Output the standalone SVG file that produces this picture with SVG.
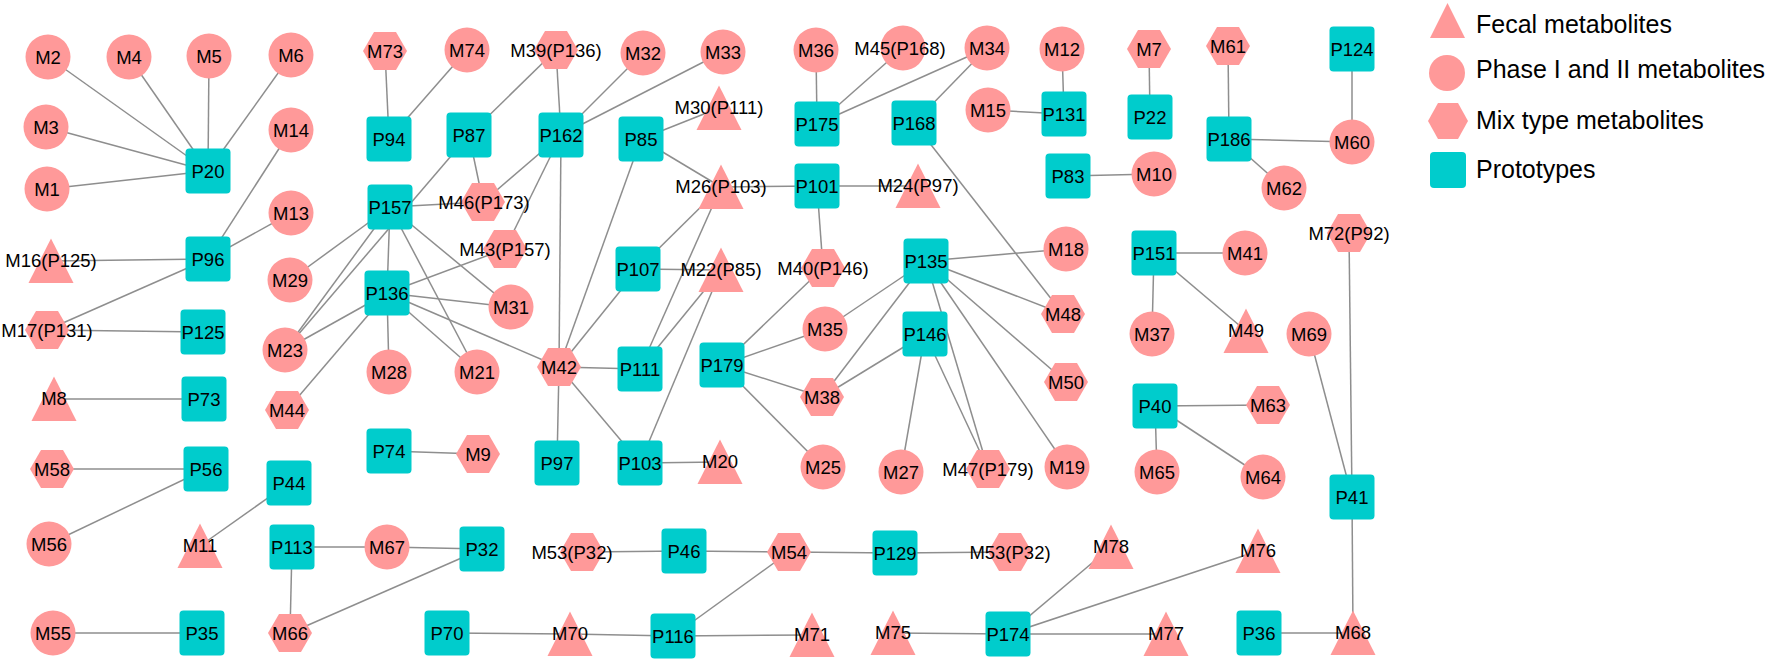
<svg xmlns="http://www.w3.org/2000/svg" xmlns:xlink="http://www.w3.org/1999/xlink" width="1772" height="662" viewBox="0 0 1772 662">
<style>
.bg{fill:#ffffff}
.e line{stroke:#8e8e8e;stroke-width:1.5}
.m{fill:#ff9999}
.p{fill:#00cccc}
text{font-family:"Liberation Sans",Arial,sans-serif;fill:#000;text-anchor:middle;font-size:18.5px}
.lg text{text-anchor:start;font-size:25px}
</style>
<defs>
<circle id="ci" r="22.5"/>
<rect id="sq" x="-22.5" y="-22.5" width="45" height="45" rx="4"/>
<polygon id="hx" points="-22,0 -11,-19 11,-19 22,0 11,19 -11,19"/>
<polygon id="tr" points="0,-22.5 22.5,22 -22.5,22"/>
</defs>
<rect class="bg" width="1772" height="662"/>
<g id="connectors" class="e">
<line x1="208" y1="171" x2="48" y2="57"/>
<line x1="208" y1="171" x2="129" y2="57"/>
<line x1="208" y1="171" x2="209" y2="56"/>
<line x1="208" y1="171" x2="291" y2="55"/>
<line x1="208" y1="171" x2="46" y2="127"/>
<line x1="208" y1="171" x2="47" y2="189"/>
<line x1="208" y1="259" x2="291" y2="130"/>
<line x1="208" y1="259" x2="291" y2="213"/>
<line x1="208" y1="259" x2="51" y2="261"/>
<line x1="208" y1="259" x2="47" y2="330"/>
<line x1="47" y1="330" x2="203" y2="332"/>
<line x1="54" y1="399" x2="204" y2="399"/>
<line x1="52" y1="469" x2="206" y2="469"/>
<line x1="49" y1="544" x2="206" y2="469"/>
<line x1="200" y1="546" x2="289" y2="483"/>
<line x1="292" y1="547" x2="387" y2="547"/>
<line x1="387" y1="547" x2="482" y2="549"/>
<line x1="292" y1="547" x2="290" y2="633"/>
<line x1="290" y1="633" x2="482" y2="549"/>
<line x1="53" y1="633" x2="202" y2="633"/>
<line x1="385" y1="51" x2="389" y2="139"/>
<line x1="467" y1="50" x2="389" y2="139"/>
<line x1="556" y1="50" x2="469" y2="135"/>
<line x1="556" y1="50" x2="561" y2="135"/>
<line x1="469" y1="135" x2="483" y2="202"/>
<line x1="285" y1="350" x2="469" y2="135"/>
<line x1="390" y1="207" x2="483" y2="202"/>
<line x1="561" y1="135" x2="483" y2="202"/>
<line x1="561" y1="135" x2="505" y2="249"/>
<line x1="561" y1="135" x2="643" y2="53"/>
<line x1="561" y1="135" x2="723" y2="52"/>
<line x1="561" y1="135" x2="559" y2="367"/>
<line x1="390" y1="207" x2="290" y2="280"/>
<line x1="390" y1="207" x2="285" y2="350"/>
<line x1="390" y1="207" x2="387" y2="293"/>
<line x1="390" y1="207" x2="511" y2="307"/>
<line x1="390" y1="207" x2="477" y2="372"/>
<line x1="387" y1="293" x2="505" y2="249"/>
<line x1="387" y1="293" x2="511" y2="307"/>
<line x1="387" y1="293" x2="559" y2="367"/>
<line x1="387" y1="293" x2="477" y2="372"/>
<line x1="387" y1="293" x2="389" y2="372"/>
<line x1="387" y1="293" x2="287" y2="410"/>
<line x1="387" y1="293" x2="285" y2="350"/>
<line x1="641" y1="139" x2="559" y2="367"/>
<line x1="638" y1="269" x2="559" y2="367"/>
<line x1="559" y1="367" x2="640" y2="369"/>
<line x1="559" y1="367" x2="557" y2="463"/>
<line x1="559" y1="367" x2="640" y2="463"/>
<line x1="641" y1="139" x2="719" y2="108"/>
<line x1="641" y1="139" x2="721" y2="187"/>
<line x1="721" y1="187" x2="817" y2="186"/>
<line x1="721" y1="187" x2="638" y2="269"/>
<line x1="721" y1="187" x2="640" y2="369"/>
<line x1="721" y1="270" x2="638" y2="269"/>
<line x1="721" y1="270" x2="640" y2="369"/>
<line x1="721" y1="270" x2="640" y2="463"/>
<line x1="817" y1="186" x2="918" y2="186"/>
<line x1="817" y1="186" x2="823" y2="268"/>
<line x1="823" y1="268" x2="722" y2="365"/>
<line x1="722" y1="365" x2="825" y2="329"/>
<line x1="722" y1="365" x2="822" y2="397"/>
<line x1="722" y1="365" x2="823" y2="467"/>
<line x1="926" y1="261" x2="825" y2="329"/>
<line x1="926" y1="261" x2="822" y2="397"/>
<line x1="925" y1="334" x2="822" y2="397"/>
<line x1="926" y1="261" x2="1066" y2="249"/>
<line x1="926" y1="261" x2="1063" y2="314"/>
<line x1="926" y1="261" x2="1066" y2="382"/>
<line x1="926" y1="261" x2="1067" y2="467"/>
<line x1="926" y1="261" x2="988" y2="469"/>
<line x1="925" y1="334" x2="988" y2="469"/>
<line x1="925" y1="334" x2="901" y2="472"/>
<line x1="914" y1="123" x2="1063" y2="314"/>
<line x1="817" y1="124" x2="816" y2="50"/>
<line x1="817" y1="124" x2="903" y2="48"/>
<line x1="817" y1="124" x2="987" y2="48"/>
<line x1="987" y1="48" x2="914" y2="123"/>
<line x1="1062" y1="49" x2="1064" y2="114"/>
<line x1="988" y1="110" x2="1064" y2="114"/>
<line x1="1149" y1="49" x2="1150" y2="117"/>
<line x1="1228" y1="46" x2="1229" y2="139"/>
<line x1="1229" y1="139" x2="1352" y2="142"/>
<line x1="1229" y1="139" x2="1284" y2="188"/>
<line x1="1352" y1="49" x2="1352" y2="142"/>
<line x1="1068" y1="176" x2="1154" y2="174"/>
<line x1="1154" y1="253" x2="1245" y2="253"/>
<line x1="1154" y1="253" x2="1152" y2="334"/>
<line x1="1154" y1="253" x2="1246" y2="331"/>
<line x1="1155" y1="406" x2="1268" y2="405"/>
<line x1="1155" y1="406" x2="1157" y2="472"/>
<line x1="1155" y1="406" x2="1263" y2="477"/>
<line x1="1349" y1="233" x2="1352" y2="497"/>
<line x1="1309" y1="334" x2="1352" y2="497"/>
<line x1="1352" y1="497" x2="1353" y2="633"/>
<line x1="1259" y1="633" x2="1353" y2="633"/>
<line x1="389" y1="451" x2="478" y2="454"/>
<line x1="640" y1="463" x2="720" y2="462"/>
<line x1="684" y1="551" x2="582" y2="552"/>
<line x1="684" y1="551" x2="789" y2="552"/>
<line x1="789" y1="552" x2="895" y2="553"/>
<line x1="895" y1="553" x2="1010" y2="552"/>
<line x1="789" y1="552" x2="673" y2="636"/>
<line x1="447" y1="633" x2="570" y2="634"/>
<line x1="570" y1="634" x2="673" y2="636"/>
<line x1="673" y1="636" x2="812" y2="635"/>
<line x1="893" y1="633" x2="1008" y2="634"/>
<line x1="1008" y1="634" x2="1166" y2="634"/>
<line x1="1008" y1="634" x2="1111" y2="547"/>
<line x1="1008" y1="634" x2="1258" y2="551"/>
</g>
<g id="M2"><use href="#ci" class="m" x="48" y="57"/><text x="48" y="63.5">M2</text></g>
<g id="M4"><use href="#ci" class="m" x="129" y="57"/><text x="129" y="63.5">M4</text></g>
<g id="M5"><use href="#ci" class="m" x="209" y="56"/><text x="209" y="62.5">M5</text></g>
<g id="M6"><use href="#ci" class="m" x="291" y="55"/><text x="291" y="61.5">M6</text></g>
<g id="M3"><use href="#ci" class="m" x="46" y="127"/><text x="46" y="133.5">M3</text></g>
<g id="M1"><use href="#ci" class="m" x="47" y="189"/><text x="47" y="195.5">M1</text></g>
<g id="P20"><use href="#sq" class="p" x="208" y="171"/><text x="208" y="177.5">P20</text></g>
<g id="M14"><use href="#ci" class="m" x="291" y="130"/><text x="291" y="136.5">M14</text></g>
<g id="M13"><use href="#ci" class="m" x="291" y="213"/><text x="291" y="219.5">M13</text></g>
<g id="P96"><use href="#sq" class="p" x="208" y="259"/><text x="208" y="265.5">P96</text></g>
<g id="M16"><use href="#tr" class="m" x="51" y="261"/><text x="51" y="267">M16(P125)</text></g>
<g id="M17"><use href="#hx" class="m" x="47" y="330"/><text x="47" y="336.5">M17(P131)</text></g>
<g id="P125"><use href="#sq" class="p" x="203" y="332"/><text x="203" y="338.5">P125</text></g>
<g id="M29"><use href="#ci" class="m" x="290" y="280"/><text x="290" y="286.5">M29</text></g>
<g id="M73"><use href="#hx" class="m" x="385" y="51"/><text x="385" y="57.5">M73</text></g>
<g id="P94"><use href="#sq" class="p" x="389" y="139"/><text x="389" y="145.5">P94</text></g>
<g id="P157"><use href="#sq" class="p" x="390" y="207"/><text x="390" y="213.5">P157</text></g>
<g id="P136"><use href="#sq" class="p" x="387" y="293"/><text x="387" y="299.5">P136</text></g>
<g id="M23"><use href="#ci" class="m" x="285" y="350"/><text x="285" y="356.5">M23</text></g>
<g id="M28"><use href="#ci" class="m" x="389" y="372"/><text x="389" y="378.5">M28</text></g>
<g id="M21"><use href="#ci" class="m" x="477" y="372"/><text x="477" y="378.5">M21</text></g>
<g id="M44"><use href="#hx" class="m" x="287" y="410"/><text x="287" y="416.5">M44</text></g>
<g id="M74"><use href="#ci" class="m" x="467" y="50"/><text x="467" y="56.5">M74</text></g>
<g id="M39"><use href="#hx" class="m" x="556" y="50"/><text x="556" y="56.5">M39(P136)</text></g>
<g id="M32"><use href="#ci" class="m" x="643" y="53"/><text x="643" y="59.5">M32</text></g>
<g id="M33"><use href="#ci" class="m" x="723" y="52"/><text x="723" y="58.5">M33</text></g>
<g id="P87"><use href="#sq" class="p" x="469" y="135"/><text x="469" y="141.5">P87</text></g>
<g id="P162"><use href="#sq" class="p" x="561" y="135"/><text x="561" y="141.5">P162</text></g>
<g id="P85"><use href="#sq" class="p" x="641" y="139"/><text x="641" y="145.5">P85</text></g>
<g id="M30"><use href="#tr" class="m" x="719" y="108"/><text x="719" y="114">M30(P111)</text></g>
<g id="M46"><use href="#hx" class="m" x="483" y="202"/><text x="484" y="208.5">M46(P173)</text></g>
<g id="M43"><use href="#hx" class="m" x="505" y="249"/><text x="505" y="255.5">M43(P157)</text></g>
<g id="M31"><use href="#ci" class="m" x="511" y="307"/><text x="511" y="313.5">M31</text></g>
<g id="M42"><use href="#hx" class="m" x="559" y="367"/><text x="559" y="373.5">M42</text></g>
<g id="M26"><use href="#tr" class="m" x="721" y="187"/><text x="721" y="193">M26(P103)</text></g>
<g id="P107"><use href="#sq" class="p" x="638" y="269"/><text x="638" y="275.5">P107</text></g>
<g id="M22"><use href="#tr" class="m" x="721" y="270"/><text x="721" y="276">M22(P85)</text></g>
<g id="P111"><use href="#sq" class="p" x="640" y="369"/><text x="640" y="375.5">P111</text></g>
<g id="P103"><use href="#sq" class="p" x="640" y="463"/><text x="640" y="469.5">P103</text></g>
<g id="P97"><use href="#sq" class="p" x="557" y="463"/><text x="557" y="469.5">P97</text></g>
<g id="M20"><use href="#tr" class="m" x="720" y="462"/><text x="720" y="468">M20</text></g>
<g id="M36"><use href="#ci" class="m" x="816" y="50"/><text x="816" y="56.5">M36</text></g>
<g id="M45"><use href="#ci" class="m" x="903" y="48"/><text x="900" y="54.5">M45(P168)</text></g>
<g id="P175"><use href="#sq" class="p" x="817" y="124"/><text x="817" y="130.5">P175</text></g>
<g id="P101"><use href="#sq" class="p" x="817" y="186"/><text x="817" y="192.5">P101</text></g>
<g id="M24"><use href="#tr" class="m" x="918" y="186"/><text x="918" y="192">M24(P97)</text></g>
<g id="M40"><use href="#hx" class="m" x="823" y="268"/><text x="823" y="274.5">M40(P146)</text></g>
<g id="P179"><use href="#sq" class="p" x="722" y="365"/><text x="722" y="371.5">P179</text></g>
<g id="M35"><use href="#ci" class="m" x="825" y="329"/><text x="825" y="335.5">M35</text></g>
<g id="M38"><use href="#hx" class="m" x="822" y="397"/><text x="822" y="403.5">M38</text></g>
<g id="M25"><use href="#ci" class="m" x="823" y="467"/><text x="823" y="473.5">M25</text></g>
<g id="M34"><use href="#ci" class="m" x="987" y="48"/><text x="987" y="54.5">M34</text></g>
<g id="P168"><use href="#sq" class="p" x="914" y="123"/><text x="914" y="129.5">P168</text></g>
<g id="M12"><use href="#ci" class="m" x="1062" y="49"/><text x="1062" y="55.5">M12</text></g>
<g id="M15"><use href="#ci" class="m" x="988" y="110"/><text x="988" y="116.5">M15</text></g>
<g id="P131"><use href="#sq" class="p" x="1064" y="114"/><text x="1064" y="120.5">P131</text></g>
<g id="M7"><use href="#hx" class="m" x="1149" y="49"/><text x="1149" y="55.5">M7</text></g>
<g id="P22"><use href="#sq" class="p" x="1150" y="117"/><text x="1150" y="123.5">P22</text></g>
<g id="M61"><use href="#hx" class="m" x="1228" y="46"/><text x="1228" y="52.5">M61</text></g>
<g id="P186"><use href="#sq" class="p" x="1229" y="139"/><text x="1229" y="145.5">P186</text></g>
<g id="P83"><use href="#sq" class="p" x="1068" y="176"/><text x="1068" y="182.5">P83</text></g>
<g id="M10"><use href="#ci" class="m" x="1154" y="174"/><text x="1154" y="180.5">M10</text></g>
<g id="M62"><use href="#ci" class="m" x="1284" y="188"/><text x="1284" y="194.5">M62</text></g>
<g id="P124"><use href="#sq" class="p" x="1352" y="49"/><text x="1352" y="55.5">P124</text></g>
<g id="M60"><use href="#ci" class="m" x="1352" y="142"/><text x="1352" y="148.5">M60</text></g>
<g id="M72"><use href="#hx" class="m" x="1349" y="233"/><text x="1349" y="239.5">M72(P92)</text></g>
<g id="P135"><use href="#sq" class="p" x="926" y="261"/><text x="926" y="267.5">P135</text></g>
<g id="M18"><use href="#ci" class="m" x="1066" y="249"/><text x="1066" y="255.5">M18</text></g>
<g id="P146"><use href="#sq" class="p" x="925" y="334"/><text x="925" y="340.5">P146</text></g>
<g id="M48"><use href="#hx" class="m" x="1063" y="314"/><text x="1063" y="320.5">M48</text></g>
<g id="M50"><use href="#hx" class="m" x="1066" y="382"/><text x="1066" y="388.5">M50</text></g>
<g id="M27"><use href="#ci" class="m" x="901" y="472"/><text x="901" y="478.5">M27</text></g>
<g id="M47"><use href="#hx" class="m" x="988" y="469"/><text x="988" y="475.5">M47(P179)</text></g>
<g id="M19"><use href="#ci" class="m" x="1067" y="467"/><text x="1067" y="473.5">M19</text></g>
<g id="P151"><use href="#sq" class="p" x="1154" y="253"/><text x="1154" y="259.5">P151</text></g>
<g id="M41"><use href="#ci" class="m" x="1245" y="253"/><text x="1245" y="259.5">M41</text></g>
<g id="M37"><use href="#ci" class="m" x="1152" y="334"/><text x="1152" y="340.5">M37</text></g>
<g id="M49"><use href="#tr" class="m" x="1246" y="331"/><text x="1246" y="337">M49</text></g>
<g id="M69"><use href="#ci" class="m" x="1309" y="334"/><text x="1309" y="340.5">M69</text></g>
<g id="P40"><use href="#sq" class="p" x="1155" y="406"/><text x="1155" y="412.5">P40</text></g>
<g id="M63"><use href="#hx" class="m" x="1268" y="405"/><text x="1268" y="411.5">M63</text></g>
<g id="M65"><use href="#ci" class="m" x="1157" y="472"/><text x="1157" y="478.5">M65</text></g>
<g id="M64"><use href="#ci" class="m" x="1263" y="477"/><text x="1263" y="483.5">M64</text></g>
<g id="P41"><use href="#sq" class="p" x="1352" y="497"/><text x="1352" y="503.5">P41</text></g>
<g id="M8"><use href="#tr" class="m" x="54" y="399"/><text x="54" y="405">M8</text></g>
<g id="P73"><use href="#sq" class="p" x="204" y="399"/><text x="204" y="405.5">P73</text></g>
<g id="M58"><use href="#hx" class="m" x="52" y="469"/><text x="52" y="475.5">M58</text></g>
<g id="P56"><use href="#sq" class="p" x="206" y="469"/><text x="206" y="475.5">P56</text></g>
<g id="M56"><use href="#ci" class="m" x="49" y="544"/><text x="49" y="550.5">M56</text></g>
<g id="M11"><use href="#tr" class="m" x="200" y="546"/><text x="200" y="552">M11</text></g>
<g id="P44"><use href="#sq" class="p" x="289" y="483"/><text x="289" y="489.5">P44</text></g>
<g id="P113"><use href="#sq" class="p" x="292" y="547"/><text x="292" y="553.5">P113</text></g>
<g id="M67"><use href="#ci" class="m" x="387" y="547"/><text x="387" y="553.5">M67</text></g>
<g id="P32"><use href="#sq" class="p" x="482" y="549"/><text x="482" y="555.5">P32</text></g>
<g id="M55"><use href="#ci" class="m" x="53" y="633"/><text x="53" y="639.5">M55</text></g>
<g id="P35"><use href="#sq" class="p" x="202" y="633"/><text x="202" y="639.5">P35</text></g>
<g id="M66"><use href="#hx" class="m" x="290" y="633"/><text x="290" y="639.5">M66</text></g>
<g id="P70"><use href="#sq" class="p" x="447" y="633"/><text x="447" y="639.5">P70</text></g>
<g id="M70"><use href="#tr" class="m" x="570" y="634"/><text x="570" y="640">M70</text></g>
<g id="P74"><use href="#sq" class="p" x="389" y="451"/><text x="389" y="457.5">P74</text></g>
<g id="M9"><use href="#hx" class="m" x="478" y="454"/><text x="478" y="460.5">M9</text></g>
<g id="M53a"><use href="#hx" class="m" x="582" y="552"/><text x="572" y="558.5">M53(P32)</text></g>
<g id="P46"><use href="#sq" class="p" x="684" y="551"/><text x="684" y="557.5">P46</text></g>
<g id="M54"><use href="#hx" class="m" x="789" y="552"/><text x="789" y="558.5">M54</text></g>
<g id="P129"><use href="#sq" class="p" x="895" y="553"/><text x="895" y="559.5">P129</text></g>
<g id="M53b"><use href="#hx" class="m" x="1010" y="552"/><text x="1010" y="558.5">M53(P32)</text></g>
<g id="M78"><use href="#tr" class="m" x="1111" y="547"/><text x="1111" y="553">M78</text></g>
<g id="P116"><use href="#sq" class="p" x="673" y="636"/><text x="673" y="642.5">P116</text></g>
<g id="M71"><use href="#tr" class="m" x="812" y="635"/><text x="812" y="641">M71</text></g>
<g id="M75"><use href="#tr" class="m" x="893" y="633"/><text x="893" y="639">M75</text></g>
<g id="P174"><use href="#sq" class="p" x="1008" y="634"/><text x="1008" y="640.5">P174</text></g>
<g id="M77"><use href="#tr" class="m" x="1166" y="634"/><text x="1166" y="640">M77</text></g>
<g id="M76"><use href="#tr" class="m" x="1258" y="551"/><text x="1258" y="557">M76</text></g>
<g id="P36"><use href="#sq" class="p" x="1259" y="633"/><text x="1259" y="639.5">P36</text></g>
<g id="M68"><use href="#tr" class="m" x="1353" y="633"/><text x="1353" y="639">M68</text></g>
<g id="legend" class="lg">
<polygon class="m" points="1447.5,3 1465,38 1430,38"/>
<text x="1476" y="33">Fecal metabolites</text>
<circle class="m" cx="1447" cy="73" r="18"/>
<text x="1476" y="78">Phase I and II metabolites</text>
<polygon class="m" points="1428,121 1438,103 1458,103 1468,121 1458,139 1438,139"/>
<text x="1476" y="129">Mix type metabolites</text>
<rect class="p" x="1430" y="152" width="36" height="36" rx="4"/>
<text x="1476" y="178">Prototypes</text>
</g>
</svg>
